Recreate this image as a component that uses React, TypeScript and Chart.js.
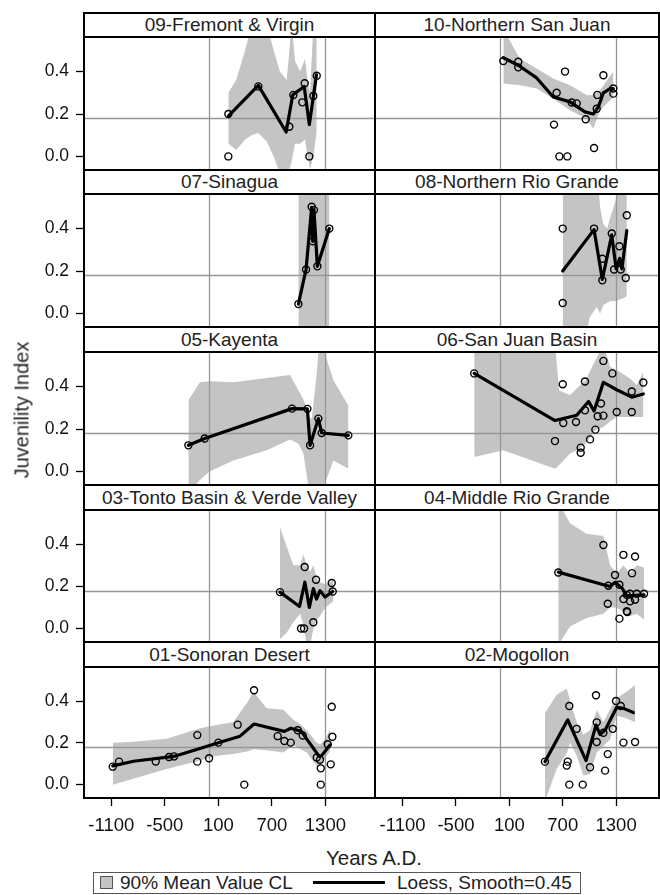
import React, { useEffect, useRef } from "react";
import { Chart, registerables } from "chart.js";
Chart.register(...registerables);

// ---------- axis / reference values ----------
const X_TICKS = [-1100, -500, 100, 700, 1300];
const Y_TICKS = [0, 0.2, 0.4];
const REF_YEARS = [0, 1300];
const REF_VALUE = 0.18;
const Y_MIN = -0.064;
const Y_MAX = 0.563;
const X_RANGE_LEFT = [-1406, 1856];
const X_RANGE_RIGHT = [-1410, 1782];

// ---------- data: [year, value] points, loess [year, value], band [year, lower, upper] ----------
const fremontPoints = [[212, 0.2], [212, 0.0], [548, 0.33], [896, 0.14], [941, 0.29], [1041, 0.255], [1068, 0.345], [1120, 0.0], [1165, 0.285], [1203, 0.38]];
const fremontLoess = [[212, 0.19], [548, 0.335], [860, 0.115], [934, 0.29], [1062, 0.33], [1120, 0.15], [1200, 0.385]];
const fremontBand = [[212, 0.06, 0.3], [300, 0.03, 0.36], [400, 0.08, 0.5], [474, 0.1, 0.62], [548, 0.11, 0.62], [642, 0.07, 0.62], [720, 0.0, 0.5], [790, -0.08, 0.4], [866, -0.12, 0.36], [922, -0.02, 0.62], [960, 0.06, 0.45], [1016, 0.06, 0.4], [1072, 0.08, 0.46], [1100, 0.0, 0.36], [1128, -0.06, 0.3], [1165, 0.0, 0.62], [1203, 0.12, 0.62]];

const nsjPoints = [[32, 0.45], [200, 0.446], [200, 0.42], [726, 0.4], [632, 0.3], [602, 0.15], [662, 0.0], [752, 0.0], [801, 0.254], [857, 0.25], [958, 0.175], [1052, 0.04], [1082, 0.225], [1089, 0.29], [1157, 0.383], [1269, 0.32], [1269, 0.296]];
const nsjLoess = [[32, 0.465], [200, 0.43], [407, 0.37], [594, 0.28], [782, 0.257], [950, 0.21], [1044, 0.2], [1100, 0.233], [1157, 0.3], [1232, 0.32], [1269, 0.32]];
const nsjBand = [[32, 0.344, 0.6], [219, 0.336, 0.46], [407, 0.32, 0.414], [594, 0.272, 0.367], [782, 0.218, 0.336], [970, 0.178, 0.288], [1044, 0.131, 0.29], [1119, 0.218, 0.312], [1269, 0.28, 0.4]];

const sinaguaPoints = [[997, 0.044], [1083, 0.207], [1146, 0.503], [1172, 0.487], [1158, 0.34], [1210, 0.222], [1344, 0.4]];
const sinaguaLoess = [[997, 0.044], [1083, 0.207], [1146, 0.5], [1158, 0.34], [1172, 0.487], [1210, 0.222], [1344, 0.4]];
const sinaguaBand = [[997, -0.2, 0.8], [1344, -0.2, 0.8]];

const nrgPoints = [[700, 0.4], [700, 0.049], [1052, 0.4], [1145, 0.258], [1145, 0.156], [1251, 0.377], [1277, 0.207], [1337, 0.317], [1352, 0.207], [1408, 0.167], [1420, 0.463]];
const nrgLoess = [[700, 0.2], [1052, 0.395], [1145, 0.16], [1251, 0.37], [1300, 0.21], [1340, 0.26], [1365, 0.21], [1420, 0.39]];
const nrgBand = [[700, -0.2, 0.8], [932, -0.2, 0.8], [1000, -0.02, 0.8], [1082, 0.03, 0.7], [1120, 0.0, 0.5], [1157, 0.04, 0.42], [1200, 0.05, 0.4], [1232, 0.057, 0.45], [1307, 0.06, 0.55], [1382, 0.073, 0.7], [1420, 0.081, 0.7]];

const kayentaPoints = [[-236, 0.123], [-53, 0.155], [926, 0.296], [1098, 0.295], [1128, 0.123], [1221, 0.249], [1259, 0.181], [1557, 0.17]];
const kayentaLoess = [[-236, 0.123], [-53, 0.155], [926, 0.296], [1098, 0.295], [1128, 0.123], [1221, 0.249], [1259, 0.181], [1557, 0.17]];
const kayentaBand = [[-236, -0.1, 0.336], [-107, -0.04, 0.42], [0, 0.0, 0.425], [268, 0.052, 0.42], [642, 0.1, 0.44], [904, 0.15, 0.454], [1000, 0.13, 0.38], [1053, 0.085, 0.34], [1120, -0.1, 0.26], [1147, -0.1, 0.246], [1200, -0.1, 0.45], [1240, -0.1, 0.65], [1300, -0.05, 0.55], [1390, 0.052, 0.43], [1558, 0.013, 0.31]];

const sjbPoints = [[-295, 0.462], [613, 0.143], [700, 0.411], [706, 0.228], [849, 0.233], [902, 0.112], [902, 0.088], [950, 0.424], [950, 0.288], [1007, 0.151], [1067, 0.197], [1093, 0.26], [1130, 0.32], [1157, 0.263], [1157, 0.521], [1258, 0.462], [1307, 0.28], [1476, 0.377], [1476, 0.28], [1606, 0.419]];
const sjbLoess = [[-295, 0.462], [613, 0.24], [857, 0.265], [990, 0.33], [1052, 0.285], [1157, 0.42], [1307, 0.385], [1476, 0.35], [1606, 0.365]];
const sjbBand = [[-295, 0.068, 0.7], [32, 0.1, 0.7], [300, 0.06, 0.7], [613, 0.013, 0.6], [660, 0.03, 0.38], [782, 0.084, 0.36], [857, 0.1, 0.391], [957, 0.131, 0.43], [1063, 0.194, 0.52], [1157, 0.21, 0.6], [1232, 0.235, 0.493], [1307, 0.257, 0.478], [1457, 0.257, 0.438], [1532, 0.257, 0.407], [1606, 0.257, 0.47]];

const tontoPoints = [[791, 0.173], [1068, 0.292], [1027, 0.0], [1061, 0.0], [1195, 0.232], [1165, 0.03], [1371, 0.216], [1382, 0.176]];
const tontoLoess = [[791, 0.173], [1010, 0.105], [1070, 0.22], [1120, 0.1], [1165, 0.19], [1200, 0.14], [1240, 0.18], [1296, 0.15], [1382, 0.176]];
const tontoBand = [[791, -0.05, 0.48], [866, -0.02, 0.39], [941, 0.03, 0.3], [1016, 0.07, 0.3], [1053, 0.02, 0.35], [1091, -0.08, 0.3], [1130, -0.08, 0.27], [1165, 0.0, 0.3], [1200, 0.04, 0.24], [1240, 0.06, 0.22], [1300, 0.1, 0.21], [1389, 0.13, 0.23]];

const mrgPoints = [[650, 0.266], [1157, 0.397], [1206, 0.118], [1288, 0.254], [1337, 0.047], [1382, 0.35], [1513, 0.342], [1479, 0.263], [1213, 0.203], [1337, 0.208], [1420, 0.082], [1425, 0.078], [1382, 0.14], [1457, 0.129], [1513, 0.137], [1420, 0.16], [1457, 0.165], [1532, 0.165], [1614, 0.165]];
const mrgLoess = [[650, 0.268], [1230, 0.2], [1290, 0.22], [1330, 0.205], [1370, 0.19], [1420, 0.155], [1614, 0.16]];
const mrgBand = [[650, -0.08, 0.6], [781, 0.01, 0.5], [968, 0.05, 0.45], [1157, 0.07, 0.44], [1232, 0.1, 0.3], [1307, 0.1, 0.26], [1382, 0.08, 0.3], [1457, 0.06, 0.26], [1532, 0.07, 0.3], [1614, 0.043, 0.29]];

const sonoranPoints = [[-1084, 0.086], [-1013, 0.11], [-602, 0.111], [-453, 0.132], [-397, 0.135], [-136, 0.237], [-136, 0.11], [-4, 0.126], [100, 0.201], [317, 0.287], [391, 0.0], [500, 0.452], [765, 0.232], [840, 0.209], [911, 0.201], [990, 0.26], [1046, 0.235], [1203, 0.13], [1240, 0.119], [1248, 0.078], [1248, 0.0], [1326, 0.193], [1360, 0.097], [1371, 0.373], [1378, 0.229]];
const sonoranLoess = [[-1084, 0.09], [-850, 0.112], [-400, 0.135], [-143, 0.168], [100, 0.2], [343, 0.232], [500, 0.29], [840, 0.255], [912, 0.27], [1030, 0.255], [1230, 0.135], [1260, 0.14], [1352, 0.19]];
const sonoranBand = [[-1084, 0.0, 0.2], [-853, 0.028, 0.205], [-479, 0.075, 0.22], [-105, 0.115, 0.27], [82, 0.138, 0.285], [268, 0.146, 0.3], [436, 0.16, 0.4], [492, 0.169, 0.444], [642, 0.165, 0.365], [829, 0.154, 0.358], [941, 0.19, 0.311], [1016, 0.17, 0.29], [1091, 0.154, 0.26], [1147, 0.12, 0.232], [1203, 0.091, 0.2], [1240, 0.09, 0.193], [1300, 0.13, 0.22], [1352, 0.16, 0.263]];

const mogollonPoints = [[500, 0.11], [745, 0.091], [756, 0.11], [774, 0.376], [774, 0.0], [857, 0.267], [925, 0.0], [1007, 0.083], [1074, 0.428], [1082, 0.298], [1082, 0.204], [1157, 0.248], [1176, 0.067], [1206, 0.146], [1262, 0.267], [1299, 0.4], [1352, 0.376], [1382, 0.201], [1513, 0.204]];
const mogollonLoess = [[500, 0.11], [756, 0.31], [962, 0.115], [1074, 0.285], [1119, 0.24], [1176, 0.26], [1307, 0.37], [1382, 0.365], [1494, 0.345]];
const mogollonBand = [[500, -0.08, 0.342], [632, 0.075, 0.43], [745, 0.15, 0.46], [782, 0.2, 0.4], [857, 0.138, 0.3], [932, 0.044, 0.24], [1007, 0.05, 0.26], [1082, 0.154, 0.357], [1157, 0.185, 0.3], [1232, 0.216, 0.36], [1307, 0.33, 0.413], [1400, 0.32, 0.44], [1513, 0.3, 0.476]];

const PANELS = [
  { title: "09-Fremont & Virgin", col: 0, row: 0, points: fremontPoints, loess: fremontLoess, band: fremontBand },
  { title: "10-Northern San Juan", col: 1, row: 0, points: nsjPoints, loess: nsjLoess, band: nsjBand },
  { title: "07-Sinagua", col: 0, row: 1, points: sinaguaPoints, loess: sinaguaLoess, band: sinaguaBand },
  { title: "08-Northern Rio Grande", col: 1, row: 1, points: nrgPoints, loess: nrgLoess, band: nrgBand },
  { title: "05-Kayenta", col: 0, row: 2, points: kayentaPoints, loess: kayentaLoess, band: kayentaBand },
  { title: "06-San Juan Basin", col: 1, row: 2, points: sjbPoints, loess: sjbLoess, band: sjbBand },
  { title: "03-Tonto Basin & Verde Valley", col: 0, row: 3, points: tontoPoints, loess: tontoLoess, band: tontoBand },
  { title: "04-Middle Rio Grande", col: 1, row: 3, points: mrgPoints, loess: mrgLoess, band: mrgBand },
  { title: "01-Sonoran Desert", col: 0, row: 4, points: sonoranPoints, loess: sonoranLoess, band: sonoranBand },
  { title: "02-Mogollon", col: 1, row: 4, points: mogollonPoints, loess: mogollonLoess, band: mogollonBand },
];

// ---------- layout ----------
const FONT = '"Liberation Sans", Arial, Helvetica, sans-serif';
const COL_LEFT = [84, 375];
const COL_RIGHT = [375, 659];
const HEAD_TOP = [13, 170, 327, 485, 642];
const PLOT_TOP = [37, 194, 352, 510, 667];
const PLOT_BOTTOM = [170, 327, 485, 642, 798];
const X_AXIS_H = 44;
const BAND_COLOR = "rgb(196,196,196)";
const REF_COLOR = "rgb(150,150,150)";

const refLinesPlugin = {
  id: "refLines",
  beforeDatasetDraw(chart: any, args: any) {
    if (args.index !== 2) return;
    const { ctx, chartArea: a, scales } = chart;
    const x = scales.x, y = scales.y;
    ctx.save();
    ctx.beginPath();
    ctx.rect(a.left, a.top, a.right - a.left, a.bottom - a.top);
    ctx.clip();
    ctx.strokeStyle = REF_COLOR;
    ctx.lineWidth = 1.3;
    ctx.beginPath();
    for (const yr of REF_YEARS) {
      const px = Math.round(x.getPixelForValue(yr)) + 0.5;
      ctx.moveTo(px, a.top);
      ctx.lineTo(px, a.bottom);
    }
    const py = Math.round(y.getPixelForValue(REF_VALUE)) + 0.5;
    ctx.moveTo(a.left, py);
    ctx.lineTo(a.right, py);
    ctx.stroke();
    ctx.restore();
  },
};

function zeroPad(s: any) {
  s.paddingTop = 0;
  s.paddingBottom = 0;
  s.paddingLeft = 0;
  s.paddingRight = 0;
}

function Panel({ spec }: { spec: any }) {
  const ref = useRef<HTMLCanvasElement>(null);
  const isLeft = spec.col === 0;
  const isBottom = spec.row === 4;
  const left = isLeft ? 0 : COL_LEFT[1];
  const width = isLeft ? COL_RIGHT[0] : COL_RIGHT[1] - COL_LEFT[1];
  const top = PLOT_TOP[spec.row];
  const height = PLOT_BOTTOM[spec.row] - PLOT_TOP[spec.row] + (isBottom ? X_AXIS_H : 0);

  useEffect(() => {
    const range = isLeft ? X_RANGE_LEFT : X_RANGE_RIGHT;
    const chart = new Chart(ref.current as HTMLCanvasElement, {
      type: "scatter",
      data: {
        datasets: [
          {
            type: "line",
            data: spec.band.map((b: number[]) => ({ x: b[0], y: b[2] })),
            borderWidth: 0,
            borderColor: "rgba(0,0,0,0)",
            backgroundColor: BAND_COLOR,
            pointRadius: 0,
            fill: "+1",
            tension: 0,
            order: 3,
          },
          {
            type: "line",
            data: spec.band.map((b: number[]) => ({ x: b[0], y: b[1] })),
            borderWidth: 0,
            borderColor: "rgba(0,0,0,0)",
            pointRadius: 0,
            fill: false,
            tension: 0,
            order: 3,
          },
          {
            type: "line",
            data: spec.loess.map((p: number[]) => ({ x: p[0], y: p[1] })),
            borderColor: "#000",
            borderWidth: 3.2,
            pointRadius: 0,
            fill: false,
            tension: 0,
            borderJoinStyle: "round",
            borderCapStyle: "round",
            order: 2,
          },
          {
            type: "scatter",
            data: spec.points.map((p: number[]) => ({ x: p[0], y: p[1] })),
            pointRadius: 3.5,
            borderWidth: 1.4,
            borderColor: "#000",
            backgroundColor: "rgba(0,0,0,0)",
            order: 1,
          },
        ],
      } as any,
      options: {
        animation: false,
        responsive: false,
        devicePixelRatio: 1,
        events: [],
        layout: { padding: 0, autoPadding: false },
        plugins: { legend: { display: false }, tooltip: { enabled: false }, title: { display: false } },
        scales: {
          x: {
            type: "linear",
            min: range[0],
            max: range[1],
            display: isBottom,
            afterBuildTicks: (s: any) => {
              s.ticks = X_TICKS.map((v) => ({ value: v }));
            },
            afterFit: (s: any) => {
              if (isBottom) s.height = X_AXIS_H;
              zeroPad(s);
            },
            grid: { display: true, drawOnChartArea: false, drawTicks: true, tickLength: 8, tickColor: "#000", tickWidth: 1.3 },
            border: { display: false },
            ticks: { color: "#111", font: { family: FONT, size: 18.5 }, padding: 9, maxRotation: 0, autoSkip: false, callback: (v: any) => String(v) },
          },
          y: {
            type: "linear",
            min: Y_MIN,
            max: Y_MAX,
            display: isLeft,
            afterBuildTicks: (s: any) => {
              s.ticks = Y_TICKS.map((v) => ({ value: v }));
            },
            afterFit: (s: any) => {
              if (isLeft) s.width = COL_LEFT[0];
              zeroPad(s);
            },
            grid: { display: true, drawOnChartArea: false, drawTicks: true, tickLength: 8, tickColor: "#000", tickWidth: 1.3 },
            border: { display: false },
            ticks: { color: "#111", font: { family: FONT, size: 17.5 }, padding: 7, autoSkip: false, callback: (v: any) => Number(v).toFixed(1) },
          },
        },
      } as any,
      plugins: [refLinesPlugin],
    });
    return () => chart.destroy();
  }, []);

  return (
    <canvas
      ref={ref}
      width={width}
      height={height}
      style={{ position: "absolute", left, top, width, height, display: "block" }}
    />
  );
}

function Frames() {
  const els: any[] = [];
  PANELS.forEach((p, i) => {
    const l = COL_LEFT[p.col];
    const w = COL_RIGHT[p.col] - COL_LEFT[p.col];
    const ht = HEAD_TOP[p.row];
    const pt = PLOT_TOP[p.row];
    const pb = PLOT_BOTTOM[p.row];
    els.push(
      <div
        key={"h" + i}
        style={{
          position: "absolute",
          left: l - 1,
          top: ht - 1,
          width: w + 2,
          height: pt - ht + 2,
          boxSizing: "border-box",
          border: "2px solid #000",
          background: "#fff",
          textAlign: "center",
          fontFamily: FONT,
          fontSize: 19,
          lineHeight: pt - ht - 2 + "px",
          color: "#222",
          whiteSpace: "nowrap",
        }}
      >
        {p.title}
      </div>
    );
    els.push(
      <div
        key={"f" + i}
        style={{
          position: "absolute",
          left: l - 1,
          top: pt - 1,
          width: w + 2,
          height: pb - pt + 2,
          boxSizing: "border-box",
          border: "2px solid #000",
          pointerEvents: "none",
        }}
      />
    );
  });
  return <>{els}</>;
}

export default function App() {
  return (
    <div style={{ position: "absolute", left: 0, top: 0, width: 660, height: 895, background: "#fff", overflow: "hidden" }}>
      {PANELS.map((p, i) => (
        <Panel key={i} spec={p} />
      ))}
      <Frames />
      <div
        style={{
          position: "absolute",
          left: 22,
          top: 410,
          transform: "translate(-50%, -50%) rotate(-90deg)",
          fontFamily: FONT,
          fontSize: 20,
          whiteSpace: "nowrap",
          color: "#222",
        }}
      >
        Juvenility Index
      </div>
      <div
        style={{
          position: "absolute",
          left: 374,
          top: 858,
          transform: "translate(-50%, -50%)",
          fontFamily: FONT,
          fontSize: 20.5,
          whiteSpace: "nowrap",
          color: "#222",
        }}
      >
        Years A.D.
      </div>
      <div
        style={{
          position: "absolute",
          left: 93,
          top: 872,
          width: 488,
          height: 22,
          boxSizing: "border-box",
          border: "1.5px solid #555",
          fontFamily: FONT,
          fontSize: 19,
          color: "#222",
        }}
      >
        <div
          style={{
            position: "absolute",
            left: 6,
            top: 3,
            width: 13,
            height: 13,
            boxSizing: "border-box",
            border: "1px solid #555",
            background: BAND_COLOR,
          }}
        />
        <div style={{ position: "absolute", left: 26, top: 0, lineHeight: "19px", whiteSpace: "nowrap" }}>90% Mean Value CL</div>
        <div style={{ position: "absolute", left: 219, top: 8, width: 72, height: 3, background: "#000" }} />
        <div style={{ position: "absolute", left: 303, top: 0, lineHeight: "19px", whiteSpace: "nowrap" }}>Loess, Smooth=0.45</div>
      </div>
    </div>
  );
}
